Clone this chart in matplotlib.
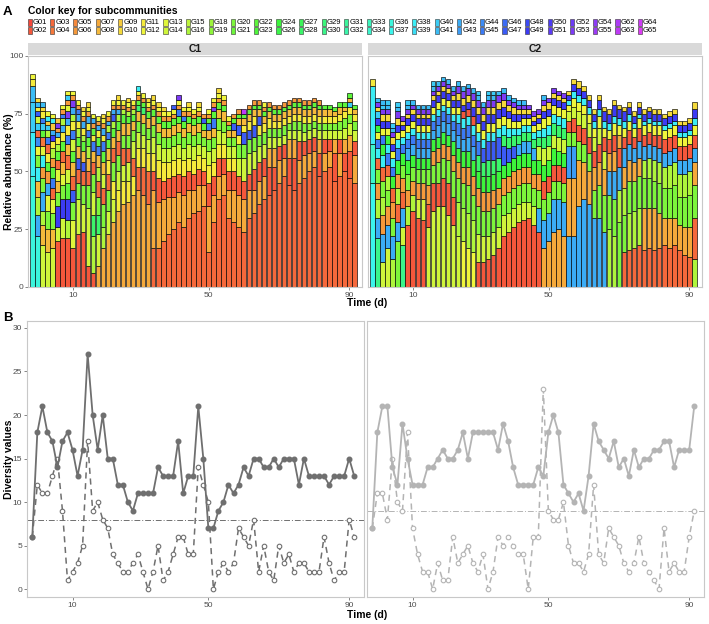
import matplotlib
matplotlib.use("Agg")
import matplotlib.pyplot as plt
from matplotlib.patches import Rectangle
import colorsys

plt.rcParams['font.family'] = ['Liberation Sans', 'DejaVu Sans']

W, H = 709, 624

# ---------------- data ----------------
groups = list(range(1, 17)) + list(range(18, 25)) + list(range(26, 35)) + list(range(36, 56)) + list(range(62, 66))
group_labels = ["G%02d" % g for g in groups]

# stacked composition per sample (bottom -> top), "group:abundance"
c1_bars = [
    "36:48 38:19 40:13 41:7 11:3 12:2",
    "36:22 42:9 16:8 8:7 38:6 20:5 12:4 44:4 3:3 40:3 14:3 47:2 11:2 41:2 10:2",
    "14:18 8:9 16:6 42:8 20:6 6:5 38:5 13:4 4:4 22:3 40:3 45:2 11:3 10:2 41:2",
    "14:15 8:10 20:8 13:7 42:5 6:5 22:4 11:4 3:4 45:3 16:3 40:2 9:2 38:2 12:2",
    "14:17 8:8 20:7 13:6 3:5 45:4 22:5 6:4 16:4 11:3 49:3 42:2 9:3 38:2 12:2",
    "2:20 14:6 49:9 20:6 8:5 13:5 3:4 22:4 16:3 11:3 42:2 6:2 53:2 9:2",
    "2:21 14:9 49:8 20:6 13:5 8:5 3:5 22:4 11:4 42:3 16:3 45:2 6:2 12:2",
    "2:21 16:8 49:9 22:7 14:6 3:6 8:5 45:4 11:4 42:3 53:3 13:3 6:2 40:2 12:2",
    "2:17 13:12 20:8 47:5 3:6 8:6 22:5 14:5 45:4 11:4 16:3 42:3 53:3 6:2 12:2",
    "2:23 14:15 20:7 3:6 47:5 8:5 22:4 16:4 11:3 42:3 45:2 6:2 12:2",
    "2:24 14:12 20:8 3:6 47:4 8:5 22:4 16:3 11:3 42:3 6:2 12:2 10:2",
    "2:9 14:25 20:10 3:6 8:6 16:5 22:4 45:3 11:3 42:3 6:2 12:2 10:2",
    "2:6 16:16 28:9 14:10 20:8 3:5 8:5 45:4 11:3 22:3 6:2 42:2 12:2",
    "7:9 14:14 28:8 20:8 3:7 16:6 8:5 45:4 22:4 11:3 42:2 6:2 12:2",
    "7:17 16:9 20:10 3:7 14:6 8:5 22:5 45:4 11:3 42:3 6:2 12:2 10:2",
    "7:23 14:10 20:9 3:7 11:6 8:5 22:4 45:3 16:3 42:2 6:2 12:2",
    "7:28 14:10 11:8 20:8 3:6 8:5 22:4 16:3 47:3 42:2 6:2 12:2",
    "7:33 11:9 14:8 20:7 3:6 8:5 22:4 16:3 42:2 6:2 12:2 10:2",
    "7:36 11:10 14:7 3:7 20:6 8:5 22:4 16:2 6:2 12:2",
    "7:37 11:9 14:8 3:6 20:6 8:5 22:3 16:2 6:2 12:2 10:2",
    "7:40 11:8 3:8 14:7 20:5 8:4 22:3 16:2 6:2 12:2",
    "7:42 3:10 11:8 14:7 20:5 8:4 28:3 22:2 6:2 12:2 38:2",
    "7:40 3:12 11:8 14:6 20:5 8:4 28:3 22:2 6:2 12:2",
    "7:36 3:14 11:8 14:6 20:5 8:4 22:3 6:2 12:2 10:2",
    "3:17 7:25 2:8 11:8 14:7 20:5 8:4 22:3 6:2 12:2 10:2",
    "3:17 7:20 2:10 11:8 14:7 20:5 8:4 22:3 6:2 12:2 10:2",
    "3:20 7:18 2:8 11:8 14:6 20:5 8:4 22:3 6:2 12:2 10:2",
    "3:23 7:16 2:8 11:7 14:6 20:5 8:4 22:3 6:2 12:2",
    "3:25 7:14 2:9 11:7 14:6 20:5 8:4 22:3 6:2 12:2 47:2",
    "3:28 7:13 2:8 11:7 14:6 20:5 8:4 22:3 45:3 6:2 12:2 53:2",
    "3:26 7:14 2:8 11:7 14:5 20:5 8:4 22:3 45:2 6:2 12:2",
    "3:30 7:12 2:8 11:6 14:6 20:5 8:4 22:3 6:2 12:2 10:2",
    "3:32 7:10 2:7 11:6 14:6 20:5 8:4 22:3 6:2 12:2",
    "3:33 7:11 2:7 11:6 14:5 20:5 8:4 22:3 6:2 12:2 10:2",
    "3:35 7:9 2:6 11:6 14:5 20:4 8:3 22:3 47:2 6:2",
    "3:15 7:20 2:10 11:8 14:6 20:5 8:4 45:3 22:2 6:2 12:2",
    "3:28 7:12 2:8 11:6 14:6 20:5 8:4 45:4 22:3 53:2 6:2 12:2",
    "3:38 7:10 2:8 11:6 14:6 20:5 8:4 22:3 6:2 12:2 10:2",
    "3:40 7:9 2:7 11:6 14:5 20:5 8:4 22:3 6:2 12:2",
    "3:30 7:12 2:8 11:6 14:5 20:4 8:3 22:2 6:2 12:2",
    "3:28 7:14 2:8 11:6 14:5 20:4 8:3 47:3 22:2 6:2",
    "3:26 7:14 2:8 14:8 20:6 11:4 47:4 8:3 22:2 6:2",
    "3:24 7:14 2:8 14:10 20:6 47:5 11:3 8:3 22:2 63:2",
    "3:30 7:12 2:7 14:9 20:6 47:4 11:4 8:3 22:2 6:2",
    "3:32 7:10 2:9 14:8 20:6 47:5 11:4 8:3 22:2 6:2",
    "3:36 7:10 2:8 14:7 20:5 11:4 47:4 8:3 22:2 6:2",
    "3:38 7:10 2:8 14:6 20:5 11:4 8:3 22:2 6:2 12:2",
    "3:40 2:12 7:8 14:5 20:4 11:4 8:3 22:2 6:2",
    "3:42 2:10 7:8 14:5 20:4 11:3 8:3 22:2 6:2",
    "3:45 7:10 2:6 14:4 20:4 11:3 8:3 22:2 6:2",
    "3:48 7:8 2:6 14:4 20:4 11:3 8:3 22:2 6:2",
    "3:44 2:12 7:8 14:4 20:3 11:3 8:3 22:2 6:2",
    "3:42 2:14 7:8 14:4 20:4 11:3 8:3 22:2 6:2",
    "3:45 7:10 2:8 14:5 20:4 11:3 8:3 22:2 6:2",
    "3:47 7:10 2:6 14:4 20:4 11:3 8:3 22:2 6:2",
    "3:50 7:8 2:6 14:4 20:3 11:3 8:3 22:2 6:2",
    "3:52 7:7 2:6 14:4 20:3 11:3 8:3 22:2 6:2",
    "3:48 2:10 7:6 14:4 20:3 11:3 8:3 22:2 6:2",
    "3:50 7:8 2:6 14:4 20:3 11:3 8:3 22:2",
    "3:52 7:7 2:5 14:4 20:3 11:3 8:3 22:2",
    "3:46 2:12 7:6 14:4 20:3 11:3 8:2 22:2",
    "3:48 7:10 2:6 14:4 20:4 11:3 8:3 22:2",
    "3:50 2:8 7:6 14:5 20:4 11:3 8:2 22:2",
    "3:47 2:12 7:7 14:5 20:4 11:3 40:2 8:2 22:2",
    "3:45 7:12 2:6 14:5 20:4 11:3 8:2 22:2",
]

c2_bars = [
    "37:45 34:17 38:25 11:3",
    "30:21 42:9 16:8 6:7 20:6 3:5 38:4 45:4 12:3 24:3 49:3 40:3 10:2 53:2 41:2",
    "14:11 42:12 6:8 16:8 20:7 3:6 38:5 24:5 45:4 12:3 49:3 10:3 53:2 40:2 41:2",
    "14:17 42:10 6:8 20:7 16:6 3:5 45:5 38:4 24:4 12:3 49:3 10:3 53:2 41:2 40:2",
    "16:12 42:10 20:8 6:7 3:6 24:5 45:4 38:4 12:3 49:3 10:3 53:2 41:2 40:2",
    "20:20 42:8 3:8 16:7 6:6 24:6 45:5 38:4 12:3 49:3 10:3 53:3 41:2 40:2",
    "30:18 14:8 42:8 3:7 6:6 20:6 24:5 45:4 38:3 12:3 49:2 10:2 53:2",
    "2:27 16:8 6:7 20:7 24:6 42:5 45:4 38:3 12:3 49:3 10:2 53:2 41:2 40:2",
    "2:33 16:7 6:6 20:6 24:5 42:5 45:4 38:3 12:3 49:3 10:2 53:2 41:2",
    "2:30 14:8 6:7 20:6 24:5 42:4 45:4 38:3 12:3 49:3 10:2 53:2 41:2",
    "2:29 14:9 6:7 20:6 24:5 42:4 45:4 38:3 12:3 49:3 10:2 53:2 41:2",
    "14:26 2:10 6:8 20:7 24:5 42:4 45:4 38:3 12:3 49:3 10:2 53:2 41:2",
    "14:33 2:12 20:8 6:6 24:5 42:4 45:4 38:3 12:3 49:3 10:2 53:2 41:2 40:2",
    "14:35 2:10 20:9 6:6 24:5 42:5 45:4 38:3 12:3 49:3 10:2 53:2 41:2",
    "14:35 2:12 20:9 6:6 24:5 42:5 45:4 38:3 12:3 49:3 10:2 53:2 41:2",
    "14:31 2:14 20:10 6:6 24:5 42:5 45:4 38:3 12:3 49:3 10:2 53:2 41:2",
    "14:27 2:12 20:11 6:7 24:6 42:5 45:4 38:3 12:3 49:3 10:2 53:2 41:2",
    "14:22 16:15 20:10 6:7 24:6 42:6 45:5 38:4 12:3 49:3 10:3 53:3 41:2",
    "12:20 16:14 20:11 6:7 24:7 42:5 45:5 38:4 2:3 49:3 10:3 53:3 41:2",
    "12:17 16:15 20:12 6:8 24:7 42:6 45:5 38:4 2:3 49:3 10:3 53:3 41:2",
    "12:15 16:14 20:11 6:8 24:7 42:6 45:5 38:4 2:4 49:4 10:3 53:3 41:2",
    "2:11 14:12 20:12 6:8 24:7 28:7 45:6 38:4 12:4 49:4 10:3 53:3 41:2 40:2",
    "2:11 14:11 20:11 6:8 24:7 28:6 47:6 38:4 12:4 49:4 10:3 53:3 41:2",
    "2:12 14:10 20:11 6:8 24:7 28:7 47:8 38:4 12:4 49:4 10:3 53:3 41:2 40:2",
    "2:14 14:10 20:10 6:8 24:7 28:6 47:8 38:4 12:4 49:4 10:3 53:3 41:2 40:2",
    "2:17 14:9 20:10 6:7 24:7 28:6 47:9 38:4 12:4 49:4 10:3 53:3 41:2",
    "2:22 14:9 20:9 6:7 24:6 47:8 28:5 38:4 12:4 49:4 10:3 53:3 41:2",
    "2:24 14:8 20:9 6:7 24:6 47:6 28:5 38:4 12:4 49:3 10:3 53:2 41:2",
    "2:26 14:8 20:9 6:7 24:6 47:5 28:5 38:3 12:3 49:3 10:3 53:2 41:2",
    "2:28 14:8 20:8 6:7 24:6 42:5 28:4 38:3 12:3 49:3 10:2 53:2 41:2",
    "2:29 14:8 20:8 6:7 24:6 42:5 28:4 38:3 12:3 49:2 10:2 53:2 41:2",
    "2:30 14:7 20:8 6:7 24:6 42:5 28:4 38:3 12:3 49:2 10:2 53:2",
    "2:27 14:8 20:8 6:6 24:6 42:5 28:4 38:3 12:3 49:2 10:2 53:2",
    "2:24 42:10 20:8 6:7 24:6 14:6 28:4 38:3 12:3 49:2 10:2 53:2",
    "7:17 42:12 20:9 2:8 24:7 14:7 28:5 38:4 12:4 49:3 10:3 53:2 41:2",
    "7:20 42:12 20:9 2:7 24:7 14:6 28:5 38:4 12:4 49:3 10:3 53:2",
    "7:24 42:14 20:8 2:7 24:7 14:6 28:5 38:4 12:4 49:3 10:2 53:2",
    "7:25 42:13 20:8 2:7 24:6 14:6 28:5 38:4 12:4 49:3 10:2 53:2",
    "7:22 42:15 20:8 2:7 24:6 14:6 28:5 38:4 12:4 49:3 10:2 53:2",
    "42:22 7:25 43:14 20:6 2:5 14:4 12:3 38:2 49:2 10:2",
    "42:22 7:25 43:14 20:6 2:6 14:5 12:4 38:3 49:3 10:2",
    "42:35 7:20 20:8 2:7 14:6 12:4 38:3 49:3 10:3",
    "42:38 7:16 20:8 2:7 14:6 12:4 38:3 49:3 10:2",
    "42:36 7:14 20:8 2:7 14:6 12:4 38:3 49:3 10:2",
    "42:30 20:12 7:10 2:7 14:6 12:4 38:3 49:3 10:2",
    "42:30 20:14 7:10 2:8 14:7 12:5 38:3 49:4 10:2",
    "42:24 20:16 7:11 14:8 2:6 12:4 38:3 49:4 10:2",
    "16:25 20:15 42:10 7:8 2:6 12:4 38:3 49:4 10:2",
    "16:22 20:16 42:12 7:9 2:7 12:5 38:3 49:5 10:2",
    "20:28 16:14 42:10 2:8 7:6 12:4 38:3 49:4 10:2",
    "3:15 20:16 16:12 7:9 42:8 2:5 12:4 38:3 49:4 10:2",
    "3:16 16:16 20:14 7:9 42:7 2:6 12:4 38:3 49:3 10:2",
    "3:17 16:16 20:13 7:8 42:6 2:5 12:4 38:2 49:3 10:2",
    "3:18 16:16 20:14 7:8 42:7 2:6 12:4 38:2 49:3 10:2",
    "3:16 7:18 20:13 16:8 42:6 2:5 12:4 38:2 49:3 10:2",
    "3:17 7:17 20:13 16:9 42:6 2:5 12:4 38:2 49:3 10:2",
    "3:16 7:18 20:12 16:9 42:6 2:5 12:4 38:2 49:3 10:2",
    "3:17 7:15 20:13 16:9 42:6 2:6 12:4 38:2 49:3 10:2",
    "3:18 7:12 20:13 16:9 42:6 2:6 12:4 38:2 49:3 10:2",
    "3:17 7:13 20:13 16:10 42:6 2:6 12:4 38:2 49:3 10:2",
    "3:18 7:12 20:14 16:10 42:6 2:6 12:4 38:2 49:3 10:2",
    "3:16 7:11 20:12 16:10 42:6 2:6 12:4 38:2 49:3 10:2",
    "3:14 7:12 20:13 16:10 42:6 2:6 12:4 38:2 49:3 10:2",
    "3:13 7:13 20:14 16:10 42:6 2:6 12:4 38:2 49:3 10:2",
    "16:12 3:18 20:14 7:10 42:6 2:6 12:4 38:3 49:4 10:3",
]

c1_filled = [6, 18, 21, 18, 17, 14, 17, 18, 16, 13, 16, 27, 20, 16, 20, 15, 15, 12, 12, 10,
             9, 11, 11, 11, 11, 14, 13, 13, 13, 17, 11, 13, 13, 21, 15, 7, 7, 9, 10, 12,
             11, 12, 14, 13, 15, 15, 14, 14, 15, 14, 15, 15, 15, 12, 15, 13, 13, 13, 13, 12,
             13, 13, 13, 15, 13]
c1_open = [6, 12, 11, 11, 13, 15, 9, 1, 2, 3, 5, 17, 9, 10, 8, 7, 4, 3, 2, 2,
           3, 4, 2, 0, 2, 5, 1, 2, 4, 6, 6, 4, 4, 14, 12, 10, 0, 2, 3, 2,
           3, 7, 6, 5, 8, 2, 5, 2, 1, 5, 3, 4, 2, 3, 3, 2, 2, 2, 6, 3,
           1, 2, 2, 8, 6]
c2_filled = [7, 18, 21, 21, 14, 12, 19, 15, 12, 12, 12, 14, 14, 15, 16, 15, 15, 16, 18, 15,
             18, 18, 18, 18, 18, 16, 19, 17, 14, 12, 12, 12, 12, 14, 13, 18, 20, 18, 12, 11,
             10, 11, 9, 13, 19, 17, 16, 15, 17, 14, 15, 13, 16, 14, 15, 15, 16, 16, 17, 17,
             14, 16, 16, 16, 21]
c2_open = [7, 11, 11, 8, 15, 10, 9, 18, 7, 4, 2, 2, 0, 3, 1, 1, 6, 3, 4, 5,
           3, 2, 4, 0, 2, 6, 5, 6, 5, 4, 4, 0, 6, 6, 23, 9, 8, 8, 10, 5,
           3, 3, 2, 4, 12, 4, 3, 7, 6, 5, 3, 2, 3, 6, 3, 2, 1, 0, 7, 2,
           3, 2, 2, 6, 9]
thresholds = {"C1": 8, "C2": 9}

tick_index = [8, 35, 63]
tick_labels = ["10", "50", "90"]

# ---------------- styling ----------------
n_g = len(groups)
group_color = {}
for i, g in enumerate(groups):
    h = (4.0 + i * 5.25) / 360.0
    r, gg, b = colorsys.hsv_to_rgb(h, 0.76, 0.96)
    group_color[g] = (r, gg, b)

fig = plt.figure(figsize=(W / 100, H / 100), dpi=100)


def ax_px(x0, y0, x1, y1):
    return fig.add_axes([x0 / W, 1 - y1 / H, (x1 - x0) / W, (y1 - y0) / H])


TXT = "#4d4d4d"
STEP = 5.03  # px per sample


def style_axes(ax, x0, x1, first_px):
    for s in ax.spines.values():
        s.set_color("#c8c8c8")
        s.set_linewidth(0.8)
    ax.tick_params(axis="both", length=2, width=0.5, color="#555555", labelsize=6,
                   labelcolor=TXT, pad=1.5)
    left = -(first_px - x0) / STEP
    ax.set_xlim(left, left + (x1 - x0) / STEP)
    ax.set_xticks(tick_index)
    ax.set_xticklabels(tick_labels)


# ---------------- header / legend ----------------
fig.text(3 / W, 1 - 12 / H, "A", fontsize=9.5, fontweight="bold", va="center", ha="left")
fig.text(28 / W, 1 - 11 / H, "Color key for subcommunities", fontsize=7.5,
         fontweight="bold", va="center", ha="left")
for i, (g, lab) in enumerate(zip(groups, group_labels)):
    col = i // 2
    row = i % 2
    x = 27.7 + col * 22.6
    yc = 22.3 + row * 8.0
    fig.patches.append(Rectangle((x / W, 1 - (yc + 3.2) / H), 4.2 / W, 6.4 / H,
                                 transform=fig.transFigure, facecolor=group_color[g],
                                 edgecolor="#333333", linewidth=0.4))
    fig.text((x + 5.2) / W, 1 - yc / H, lab, fontsize=5.5, va="center", ha="left")

# ---------------- panel A ----------------
panelsA = [("C1", c1_bars, 28, 362, 32.5), ("C2", c2_bars, 368, 702, 372.5)]
for k, (name, bars, x0, x1, fpx) in enumerate(panelsA):
    strip = ax_px(x0, 43, x1, 55)
    strip.set_facecolor("#d9d9d9")
    strip.set_xticks([]); strip.set_yticks([])
    for s in strip.spines.values():
        s.set_visible(False)
    strip.text(0.5, 0.5, name, ha="center", va="center", fontsize=7.5,
               fontweight="bold", transform=strip.transAxes, color="#1a1a1a")

    ax = ax_px(x0, 56, x1, 287)
    for i, spec in enumerate(bars):
        bottom = 0.0
        xs, hs, bs, cs = [], [], [], []
        for tok in spec.split():
            g, v = tok.split(":")
            g = int(g); v = float(v)
            xs.append(i); hs.append(v); bs.append(bottom); cs.append(group_color[g])
            bottom += v
        ax.bar(xs, hs, bottom=bs, width=0.9, color=cs, edgecolor="black", linewidth=0.45)
    style_axes(ax, x0, x1, fpx)
    ax.set_ylim(0, 100)
    ax.set_yticks([0, 25, 50, 75, 100])
    if k == 0:
        ax.set_ylabel("Relative abundance (%)", fontsize=7.5, fontweight="bold")
        ax.yaxis.set_label_coords((14 - x0) / (x1 - x0), 0.5)
    else:
        ax.set_yticklabels([])
        ax.tick_params(axis="y", length=0)

fig.text(367 / W, 1 - 303.5 / H, "Time (d)", fontsize=7.5, fontweight="bold",
         ha="center", va="center")

# ---------------- panel B ----------------
fig.text(3 / W, 1 - 318 / H, "B", fontsize=9.5, fontweight="bold", va="center", ha="left")
panelsB = [("C1", c1_filled, c1_open, 27, 364, 32.3, "#6f6f6f"),
           ("C2", c2_filled, c2_open, 367, 704, 372.3, "#b4b4b4")]
for k, (name, filled, opn, x0, x1, fpx, col) in enumerate(panelsB):
    ax = ax_px(x0, 321, x1, 597)
    xs = list(range(len(filled)))
    ax.axhline(thresholds[name], color=col, linewidth=0.7, linestyle=(0, (6, 2, 1, 2)), zorder=1)
    ax.plot(xs, opn, linestyle=(0, (4, 3)), color=col, linewidth=1.1, marker="o",
            markersize=3.3, markerfacecolor="white", markeredgecolor=col,
            markeredgewidth=0.8, zorder=2)
    ax.plot(xs, filled, linestyle="-", color=col, linewidth=1.3, marker="o",
            markersize=3.3, markerfacecolor=col, markeredgecolor=col, zorder=3)
    style_axes(ax, x0, x1, fpx)
    ax.set_ylim(-0.9, 30.8)
    ax.set_yticks([0, 5, 10, 15, 20, 25, 30])
    if k == 0:
        ax.set_ylabel("Diversity values", fontsize=7.5, fontweight="bold")
        ax.yaxis.set_label_coords((14 - x0) / (x1 - x0), 0.5)
    else:
        ax.set_yticklabels([])
        ax.tick_params(axis="y", length=0)

fig.text(367 / W, 1 - 615 / H, "Time (d)", fontsize=7.5, fontweight="bold",
         ha="center", va="center")

fig.savefig("out.png", dpi=100)
